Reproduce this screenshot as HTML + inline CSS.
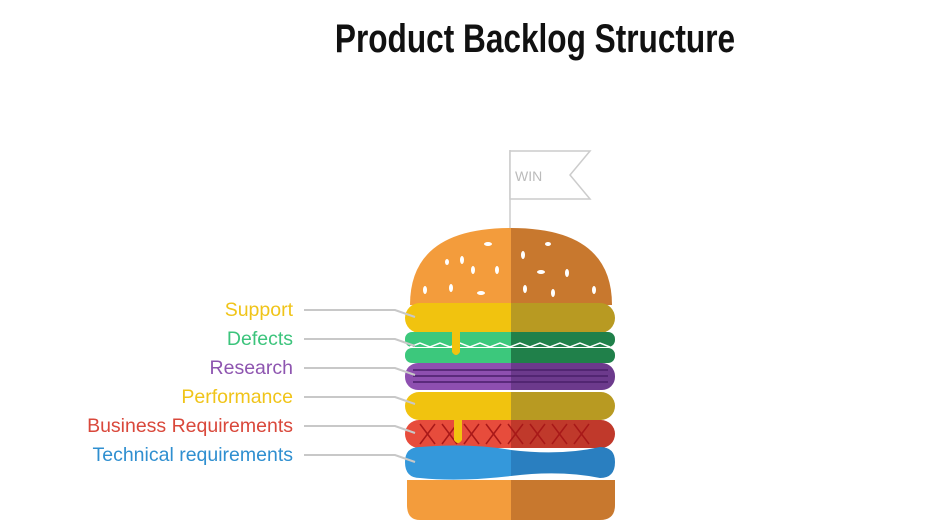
<!DOCTYPE html>
<html><head><meta charset="utf-8"><style>
html,body{margin:0;padding:0;background:#fff;width:925px;height:528px;overflow:hidden}
svg{display:block}
</style></head><body>
<svg width="925" height="528" viewBox="0 0 925 528" xmlns="http://www.w3.org/2000/svg">
<text x="535" y="52" text-anchor="middle" font-family="Liberation Sans Narrow, Liberation Sans, sans-serif" font-size="40" font-weight="bold" fill="#111" transform="translate(535 0) scale(0.79 1) translate(-535 0)">Product Backlog Structure</text>
<g font-family="Liberation Sans, DejaVu Sans, sans-serif" font-size="19.5" text-anchor="end">
<text x="293" y="316" fill="#f0c419">Support</text>
<text x="293" y="345" fill="#3cc47c">Defects</text>
<text x="293" y="374" fill="#8e55b0">Research</text>
<text x="293" y="403" fill="#f0c419">Performance</text>
<text x="293" y="432" fill="#d9483b">Business Requirements</text>
<text x="293" y="461" fill="#2f8fd0">Technical requirements</text>
</g>
<line x1="510" y1="150" x2="510" y2="238" stroke="#ccc" stroke-width="1.5"/>
<polygon points="510,151 590,151 570,175 590,199 510,199" fill="#fff" stroke="#ccc" stroke-width="1.5"/>
<text x="515" y="181" font-family="Liberation Sans, sans-serif" font-size="14" fill="#bbb">WIN</text>
<defs>
<clipPath id="L"><rect x="0" y="0" width="511" height="528"/></clipPath>
<clipPath id="R"><rect x="511" y="0" width="414" height="528"/></clipPath>
</defs>
<g clip-path="url(#L)">
<path d="M410 305 Q410 228 511 228 Q612 228 612 305 Z" fill="#f39c3c"/>
<rect x="405" y="303" width="210" height="30" rx="15" fill="#f1c30f"/>
<rect x="405" y="332" width="210" height="15" rx="7" fill="#3cc87c"/>
<rect x="405" y="348" width="210" height="15" rx="7" fill="#3cc87c"/>
<rect x="405" y="363" width="210" height="27" rx="13" fill="#8e4fb0"/>
<rect x="405" y="392" width="210" height="28" rx="14" fill="#f1c30f"/>
<rect x="405" y="420" width="210" height="28" rx="14" fill="#e74c3c"/>
<path d="M405 462 Q405 447 420 447 Q470 443 511 450 Q560 456 600 447 Q615 447 615 462 Q615 478 600 478 Q560 470 511 476 Q460 482 420 478 Q405 478 405 462Z" fill="#3498db"/>
<path d="M407 480 L615 480 L615 505 Q615 520 600 520 L420 520 Q407 520 407 505Z" fill="#f39c3c"/>
</g>
<g clip-path="url(#R)">
<path d="M410 305 Q410 228 511 228 Q612 228 612 305 Z" fill="#c8782e"/>
<rect x="405" y="303" width="210" height="30" rx="15" fill="#b89a22"/>
<rect x="405" y="332" width="210" height="15" rx="7" fill="#20804a"/>
<rect x="405" y="348" width="210" height="15" rx="7" fill="#20804a"/>
<rect x="405" y="363" width="210" height="27" rx="13" fill="#6c3a8c"/>
<rect x="405" y="392" width="210" height="28" rx="14" fill="#b89a22"/>
<rect x="405" y="420" width="210" height="28" rx="14" fill="#c0392b"/>
<path d="M405 462 Q405 447 420 447 Q470 443 511 450 Q560 456 600 447 Q615 447 615 462 Q615 478 600 478 Q560 470 511 476 Q460 482 420 478 Q405 478 405 462Z" fill="#2a7fc0"/>
<path d="M407 480 L615 480 L615 505 Q615 520 600 520 L420 520 Q407 520 407 505Z" fill="#c8782e"/>
</g>
<polyline points="410,347 420,343 430,347 440,343 450,347 460,343 470,347 480,343 490,347 500,343 510,347 520,343 530,347 540,343 550,347 560,343 570,347 580,343 590,347 600,343 610,347" fill="none" stroke="#fff" stroke-width="1.5"/>
<g stroke="#4a1f6a" stroke-width="1.5">
<line x1="413" y1="370" x2="608" y2="370"/><line x1="413" y1="376" x2="608" y2="376"/><line x1="413" y1="382" x2="608" y2="382"/>
</g>
<g stroke="#a81818" stroke-width="1.5" fill="none">
<path d="M420 424 L435 444 M435 424 L420 444 M442 424 L457 444 M457 424 L442 444 M464 424 L479 444 M479 424 L464 444 M486 424 L501 444 M501 424 L486 444 M508 424 L523 444 M523 424 L508 444 M530 424 L545 444 M545 424 L530 444 M552 424 L567 444 M567 424 L552 444 M574 424 L589 444 M589 424 L574 444"/>
</g>
<path d="M452 330 L460 330 L460 352 Q456 358 452 352Z" fill="#f1c30f"/>
<path d="M454 418 L462 418 L462 440 Q458 446 454 440Z" fill="#f1c30f"/>
<g fill="#fff">
<ellipse cx="462" cy="260" rx="2" ry="4"/><ellipse cx="488" cy="244" rx="4" ry="2"/><ellipse cx="447" cy="262" rx="2" ry="3"/>
<ellipse cx="473" cy="270" rx="2" ry="4"/><ellipse cx="497" cy="270" rx="2" ry="4"/><ellipse cx="425" cy="290" rx="2" ry="4"/>
<ellipse cx="451" cy="288" rx="2" ry="4"/><ellipse cx="481" cy="293" rx="4" ry="2"/><ellipse cx="523" cy="255" rx="2" ry="4"/>
<ellipse cx="548" cy="244" rx="3" ry="2"/><ellipse cx="541" cy="272" rx="4" ry="2"/><ellipse cx="567" cy="273" rx="2" ry="4"/>
<ellipse cx="525" cy="289" rx="2" ry="4"/><ellipse cx="553" cy="293" rx="2" ry="4"/><ellipse cx="594" cy="290" rx="2" ry="4"/>
</g>
<g stroke="#c8c8c8" stroke-width="2" fill="none">
<polyline points="304,310 395,310 415,317"/>
<polyline points="304,339 395,339 415,346"/>
<polyline points="304,368 395,368 415,375"/>
<polyline points="304,397 395,397 415,404"/>
<polyline points="304,426 395,426 415,433"/>
<polyline points="304,455 395,455 415,462"/>
</g>
</svg>
</body></html>
